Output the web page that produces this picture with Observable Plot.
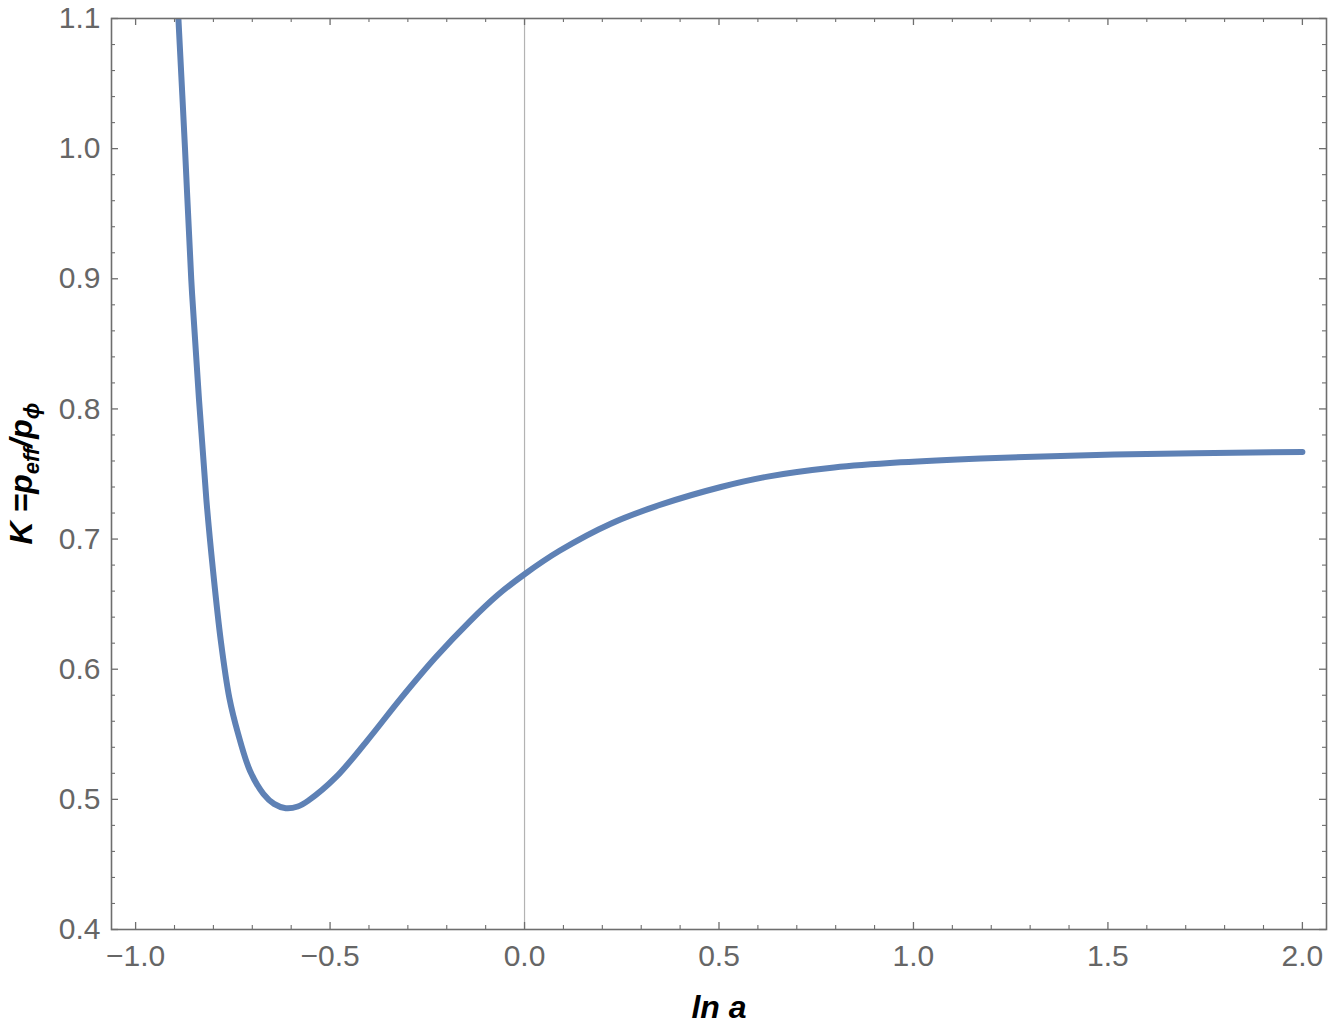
<!DOCTYPE html>
<html>
<head>
<meta charset="utf-8">
<script src="https://cdn.jsdelivr.net/npm/d3@7"></script>
<script src="https://cdn.jsdelivr.net/npm/@observablehq/plot@0.6"></script>
<style>
  html, body { margin: 0; padding: 0; background: #fff; }
  #chart { width: 1329px; height: 1025px; }
</style>
</head>
<body>
<div id="chart"></div>
<script>
// ---- data ----
const lnA = [-0.890, -0.873, -0.857, -0.837, -0.818, -0.801, -0.781, -0.759, -0.737, -0.706, -0.671, -0.644, -0.614, -0.583, -0.556, -0.485, -0.405, -0.317, -0.229, -0.140, -0.069, 0.0, 0.090, 0.223, 0.356, 0.505, 0.625, 0.796, 0.967, 1.173, 1.516, 2.0];
const K   = [1.100, 1.000, 0.900, 0.807, 0.730, 0.676, 0.622, 0.578, 0.551, 0.522, 0.504, 0.4965, 0.4932, 0.4945, 0.499, 0.517, 0.545, 0.578, 0.609, 0.637, 0.657, 0.673, 0.691, 0.712, 0.727, 0.740, 0.748, 0.755, 0.759, 0.762, 0.765, 0.767];

const xMajor = [-1.0, -0.5, 0.0, 0.5, 1.0, 1.5, 2.0];
const xMinor = [-0.9, -0.8, -0.7, -0.6, -0.4, -0.3, -0.2, -0.1, 0.1, 0.2, 0.3, 0.4, 0.6, 0.7, 0.8, 0.9, 1.1, 1.2, 1.3, 1.4, 1.6, 1.7, 1.8, 1.9];
const yMajor = [0.4, 0.5, 0.6, 0.7, 0.8, 0.9, 1.0, 1.1];
const yMinor = [0.42, 0.44, 0.46, 0.48, 0.52, 0.54, 0.56, 0.58, 0.62, 0.64, 0.66, 0.68, 0.72, 0.74, 0.76, 0.78, 0.82, 0.84, 0.86, 0.88, 0.92, 0.94, 0.96, 0.98, 1.02, 1.04, 1.06, 1.08];

const xLabel = "ln a";

const data = lnA.map((x, i) => ({x, y: K[i]}));

const width = 1329, height = 1025;
const mL = 111, mR = 3, mT = 18, mB = 96;
const W = width - mL - mR, H = height - mT - mB;
const frameColor = "#6e6e6e";
const font = "'Liberation Sans', Arial, Helvetica, sans-serif";
const majorLen = 7, minorLen = 4;

const plot = Plot.plot({
  width, height,
  marginLeft: mL, marginRight: mR, marginTop: mT, marginBottom: mB,
  style: {fontFamily: font, color: frameColor, background: "#fff"},
  x: {domain: [-1.062, 2.062]},
  y: {domain: [0.4, 1.1]},
  marks: [
    Plot.ruleX([0], {stroke: "#b3b3b3", strokeWidth: 1.2}),
    Plot.line(data, {x: "x", y: "y", stroke: "#5E81B5", strokeWidth: 6, curve: "catmull-rom", clip: true}),
    Plot.frame({stroke: frameColor, strokeWidth: 1.6}),
    // bottom / top ticks
    Plot.tickX(xMajor, {x: d => d, stroke: frameColor, strokeWidth: 1.3, insetTop: H - majorLen}),
    Plot.tickX(xMinor, {x: d => d, stroke: frameColor, strokeWidth: 1.1, insetTop: H - minorLen}),
    Plot.tickX(xMajor, {x: d => d, stroke: frameColor, strokeWidth: 1.3, insetBottom: H - majorLen}),
    Plot.tickX(xMinor, {x: d => d, stroke: frameColor, strokeWidth: 1.1, insetBottom: H - minorLen}),
    // left / right ticks
    Plot.tickY(yMajor, {y: d => d, stroke: frameColor, strokeWidth: 1.3, insetRight: W - majorLen}),
    Plot.tickY(yMinor, {y: d => d, stroke: frameColor, strokeWidth: 1.1, insetRight: W - minorLen}),
    Plot.tickY(yMajor, {y: d => d, stroke: frameColor, strokeWidth: 1.3, insetLeft: W - majorLen}),
    Plot.tickY(yMinor, {y: d => d, stroke: frameColor, strokeWidth: 1.1, insetLeft: W - minorLen}),
    Plot.axisX({ticks: xMajor, tickSize: 0, tickPadding: 15, tickFormat: d3.format(".1f"), fontSize: 30, fill: "#666", label: null}),
    Plot.axisY({ticks: yMajor, tickSize: 0, tickPadding: 11, tickFormat: d3.format(".1f"), fontSize: 30, fill: "#666", label: null}),
    Plot.text([xLabel], {frameAnchor: "bottom", dy: 88, lineAnchor: "bottom", text: d => d, fontSize: 32, fontWeight: "bold", fontStyle: "italic", fill: "#000"})
  ]
});

document.getElementById("chart").appendChild(plot);

// y-axis label with subscripts
const svg = d3.select(plot.tagName.toLowerCase() === "svg" ? plot : plot.querySelector("svg"));
const yl = svg.append("text")
  .attr("transform", `translate(32, ${mT + H / 2}) rotate(-90)`)
  .attr("text-anchor", "middle")
  .attr("font-family", font)
  .attr("font-size", 32)
  .attr("font-weight", "bold")
  .attr("font-style", "italic")
  .attr("fill", "#000");
yl.append("tspan").text("K =p");
yl.append("tspan").attr("font-size", 22).attr("dy", 7).text("eff");
yl.append("tspan").attr("dy", -7).text("/p");
yl.append("tspan").attr("font-size", 22).attr("dy", 7).text("ϕ");
</script>
</body>
</html>
